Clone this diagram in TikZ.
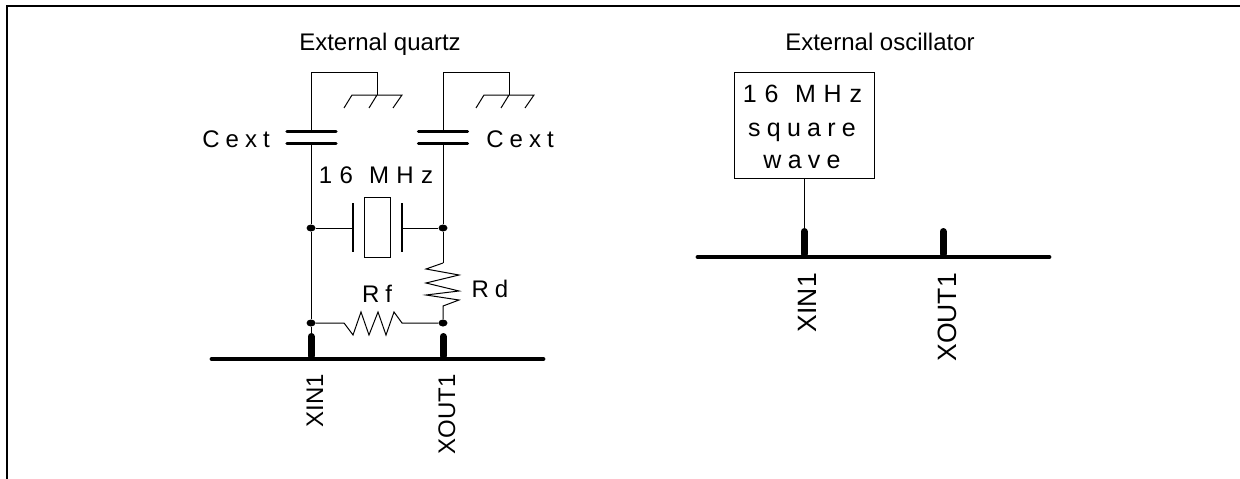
\documentclass[tikz,border=0pt]{standalone}
\usepackage{fontspec}
\setmainfont{Liberation Sans}
\newcommand{\spc}[1]{\addfontfeatures{LetterSpace=25}#1}
\newcommand{\spcw}[1]{\addfontfeatures{LetterSpace=31}#1}
\usetikzlibrary{shapes.geometric}
\tikzset{
	wire/.style = {line width = 1pt},
	plate/.style = {line width = 3.2pt, line cap = round},
	pin/.style = {line width = 7pt, line cap = round},
	bus/.style = {line width = 4.8pt, line cap = round},
	dot/.style = {ellipse, fill = black, inner sep = 0pt, minimum width = 9pt, minimum height = 7pt},
	lbl/.style = {font = \fontsize{24}{24}\selectfont, inner sep = 0pt, anchor = base},
	osclbl/.style = {lbl, font = \fontsize{25}{25}\selectfont},
	pinlbl/.style = {font = \fontsize{24}{24}\selectfont, inner sep = 0pt, rotate = 90, anchor = base east},
	pinlblb/.style = {pinlbl, font = \fontsize{26.5}{26.5}\selectfont}
}
\begin{document}
\begin{tikzpicture}[x = 1pt, y = -1pt]
	\useasboundingbox (0,0) rectangle (1240,479);
	% frame
	\draw[line width = 2pt] (7,479)--(7,6)--(1240,6);
	% titles
	\node[lbl] (title1) at (380,50) {External quartz};
	\node[lbl] (title2) at (880,50) {External oscillator};
	% left network
	\coordinate (gl) at (311,72);
	\coordinate (gr) at (443,72);
	\coordinate (capl) at (311,132);
	\coordinate (capr) at (443,132);
	\node[dot] (xl) at (311,228) {};
	\node[dot] (xr) at (443,228) {};
	\node[dot] (fl) at (311,323) {};
	\node[dot] (fr) at (443,323) {};
	\draw[wire] (311,144)--(xl)--(fl)--(311,358);
	\draw[wire] (443,144)--(xr)--(443,263);
	\draw[wire] (capl)--(gl)--(377,72)--(377,95);
	\draw[wire] (capr)--(gr)--(509,72)--(509,95);
	% ground
	\draw[wire] (344,108)--(352,95)--(402,95)--(393,108) (369,108)--(377,95);
	\draw[wire] (476,108)--(484,95)--(534,95)--(525,108) (501,108)--(509,95);
	% caps
	\draw[plate] (287,131.7)--(336,131.7) (287,143.7)--(336,143.7);
	\draw[plate] (418.5,131.7)--(467.5,131.7) (418.5,143.7)--(467.5,143.7);
	\node[lbl] (cextl) at (236,147) {\spc{Cext}};
	\node[lbl] (cextr) at (520,147) {\spc{Cext}};
	% crystal
	\node[lbl] (freq) at (376,183) {\spcw{16\hspace{2pt} MHz}};
	\node[draw, line width = 1pt, minimum width = 26pt, minimum height = 60pt, inner sep = 0pt] (xtal) at (377,227) {};
	\draw[wire] (xl)--(353,228) (402,228)--(xr);
	\draw[line width = 1.3pt] (353,203)--(353,252);
	\draw[line width = 2pt] (402,203)--(402,252);
	% Rd
	\draw[wire] (443,263)--(426,269)--(459,275)--(426,283)--(459,291)--(426,295)--(459,300)--(443,306)--(fr);
	\node[lbl] (rd) at (490,297) {\spc{Rd}};
	% Rf
	\draw[wire] (fl)--(344,323)--(353,335)--(361,312)--(369,335)--(378,312)--(386,335)--(394,312)--(402,323)--(fr);
	\node[lbl] (rf) at (377,302) {\spc{Rf}};
	% bus
	\draw[bus] (212,359)--(543,359);
	\draw[pin] (311,336.5)--(311,356);
	\draw[pin] (443,336.5)--(443,356);
	\node[pinlbl] (xin1a) at (323,374) {XIN1};
	\node[pinlbl] (xout1a) at (455,374) {XOUT1};
	% right network
	\node[draw, line width = 1pt, minimum width = 140pt, minimum height = 106pt, inner sep = 0pt] (osc) at (804,125) {};
	\node[osclbl] (osc1) at (802.5,102) {\spcw{16\hspace{2pt} MHz}};
	\node[osclbl] (osc2) at (802,136) {\spc{square}};
	\node[osclbl] (osc3) at (802,168) {\spc{wave}};
	\draw[wire] (osc)--(804,232);
	\draw[bus] (698,257)--(1049,257);
	\draw[pin] (804,231.5)--(804,254);
	\draw[pin] (943,231.5)--(943,254);
	\node[pinlblb] (xin1b) at (816,273) {XIN1};
	\node[pinlblb] (xout1b) at (956,273) {XOUT1};
\end{tikzpicture}
\end{document}
